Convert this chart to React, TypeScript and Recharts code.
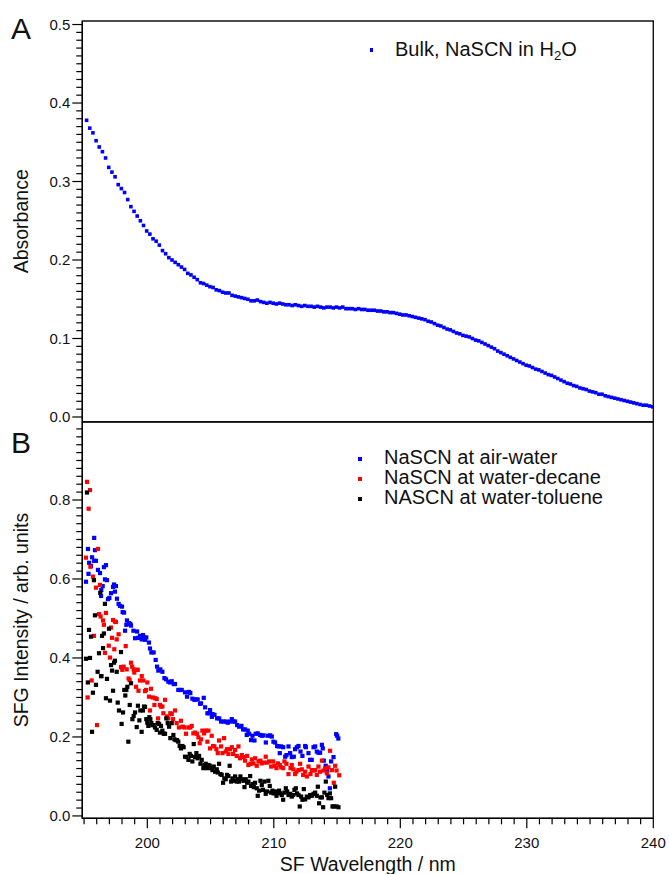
import React from 'react';
import { ScatterChart, Scatter, XAxis, YAxis, ReferenceArea, Legend } from 'recharts';

const FONT = '"Liberation Sans", Arial, Helvetica, sans-serif';

// ---- axis ranges & ticks ----
const X_MIN = 194.86;
const X_MAX = 240;
const A_MIN = -0.006;
const A_MAX = 0.5045;
const B_MIN = -0.006;
const B_MAX = 0.9975;

const xMajorTicks = [200, 210, 220, 230, 240];
const absMajorTicks = [0.0, 0.1, 0.2, 0.3, 0.4, 0.5];
const sfgMajorTicks = [0.0, 0.2, 0.4, 0.6, 0.8];

const xTicks = Array.from({ length: 46 }, (_, i) => 195 + i);
const absTicks = Array.from({ length: 51 }, (_, i) => Math.round(i) / 100);
const sfgTicks = Array.from({ length: 50 }, (_, i) => Math.round(i * 2) / 100);

// ---- panel A: bulk absorbance (wavelength grid start / step) ----
const bulkStart = 195.2;
const bulkStep = 0.25;
const bulkAbsorbance = [
  0.378, 0.368, 0.362, 0.352, 0.344, 0.338, 0.330, 0.318, 0.312, 0.306, 0.296, 0.291, 0.286, 0.277, 0.268, 0.262, 0.256, 0.250, 0.244, 0.237,
  0.233, 0.227, 0.224, 0.219, 0.212, 0.208, 0.203, 0.200, 0.197, 0.194, 0.191, 0.188, 0.183, 0.181, 0.178, 0.175, 0.171, 0.170, 0.168, 0.166,
  0.165, 0.162, 0.161, 0.159, 0.158, 0.158, 0.155, 0.154, 0.153, 0.152, 0.151, 0.150, 0.148, 0.148, 0.149, 0.147, 0.146, 0.145, 0.146, 0.145,
  0.144, 0.145, 0.144, 0.143, 0.143, 0.142, 0.143, 0.142, 0.141, 0.142, 0.141, 0.141, 0.140, 0.141, 0.140, 0.139, 0.140, 0.140, 0.139, 0.140,
  0.139, 0.140, 0.138, 0.138, 0.138, 0.137, 0.138, 0.137, 0.137, 0.136, 0.136, 0.136, 0.135, 0.135, 0.134, 0.134, 0.133, 0.133, 0.132, 0.131,
  0.130, 0.130, 0.129, 0.128, 0.127, 0.126, 0.125, 0.124, 0.122, 0.121, 0.119, 0.117, 0.116, 0.114, 0.112, 0.111, 0.109, 0.107, 0.106, 0.104,
  0.103, 0.102, 0.100, 0.098, 0.097, 0.095, 0.093, 0.091, 0.089, 0.087, 0.084, 0.082, 0.080, 0.078, 0.076, 0.074, 0.072, 0.070, 0.068, 0.066,
  0.065, 0.063, 0.061, 0.060, 0.058, 0.056, 0.054, 0.053, 0.051, 0.049, 0.047, 0.045, 0.043, 0.042, 0.040, 0.039, 0.037, 0.036, 0.035, 0.033,
  0.032, 0.031, 0.029, 0.029, 0.027, 0.026, 0.025, 0.024, 0.023, 0.022, 0.021, 0.020, 0.019, 0.018, 0.017, 0.016, 0.015, 0.015, 0.014, 0.013,
];

// ---- panel B: SFG intensity [wavelength, intensity] ----
const airWater: [number, number][] = [
  [195.15, 0.593], [195.31, 0.676], [195.35, 0.613], [195.4, 0.641], [195.55, 0.633], [195.63, 0.655], [195.8, 0.704], [195.8, 0.646],
  [195.86, 0.673], [195.94, 0.646], [196.1, 0.623], [196.26, 0.615], [196.34, 0.557], [196.36, 0.572], [196.47, 0.582], [196.57, 0.63],
  [196.65, 0.599], [196.73, 0.635], [196.81, 0.597], [196.89, 0.549], [197.0, 0.552], [197.13, 0.564], [197.29, 0.58], [197.37, 0.586],
  [197.44, 0.568], [197.52, 0.582], [197.6, 0.55], [197.73, 0.537], [197.84, 0.532], [198.0, 0.53], [198.05, 0.516], [198.16, 0.515],
  [198.24, 0.469], [198.34, 0.484], [198.39, 0.495], [198.55, 0.488], [198.66, 0.486], [198.71, 0.482], [198.9, 0.469], [199.03, 0.45],
  [199.19, 0.467], [199.29, 0.451], [199.42, 0.456], [199.55, 0.447], [199.66, 0.458], [199.74, 0.452], [199.82, 0.446], [199.92, 0.452],
  [200.13, 0.439], [200.21, 0.424], [200.32, 0.414], [200.5, 0.414], [200.66, 0.395], [200.77, 0.378], [200.87, 0.368], [201.03, 0.371],
  [201.19, 0.365], [201.35, 0.349], [201.48, 0.346], [201.66, 0.34], [201.8, 0.338], [201.93, 0.341], [202.09, 0.334], [202.19, 0.334],
  [202.45, 0.319], [202.59, 0.319], [202.72, 0.319], [202.98, 0.313], [203.14, 0.302], [203.3, 0.314], [203.4, 0.311], [203.56, 0.297],
  [203.72, 0.294], [203.83, 0.295], [203.98, 0.295], [204.17, 0.284], [204.25, 0.285], [204.46, 0.299], [204.57, 0.275], [204.75, 0.26],
  [204.88, 0.26], [204.96, 0.268], [205.1, 0.251], [205.15, 0.258], [205.31, 0.256], [205.52, 0.247], [205.68, 0.247], [205.83, 0.239],
  [206.02, 0.239], [206.2, 0.239], [206.36, 0.236], [206.52, 0.239], [206.68, 0.245], [206.81, 0.239], [206.94, 0.239], [207.1, 0.23],
  [207.26, 0.226], [207.44, 0.228], [207.57, 0.219], [207.73, 0.219], [207.86, 0.205], [207.94, 0.216], [208.05, 0.208], [208.2, 0.192],
  [208.31, 0.203], [208.47, 0.191], [208.57, 0.208], [208.73, 0.209], [208.92, 0.205], [209.05, 0.203], [209.18, 0.204], [209.37, 0.186],
  [209.52, 0.203], [209.71, 0.204], [209.84, 0.201], [209.97, 0.188], [210.1, 0.186], [210.26, 0.177], [210.37, 0.176], [210.47, 0.159],
  [210.58, 0.176], [210.74, 0.174], [210.9, 0.15], [211.0, 0.154], [211.16, 0.176], [211.29, 0.159], [211.42, 0.149], [211.58, 0.15],
  [211.68, 0.169], [211.82, 0.174], [211.95, 0.177], [212.11, 0.163], [212.26, 0.152], [212.48, 0.177], [212.53, 0.174], [212.74, 0.159],
  [212.87, 0.142], [213.0, 0.142], [213.14, 0.174], [213.27, 0.176], [213.4, 0.163], [213.53, 0.16], [213.66, 0.16], [213.8, 0.18],
  [213.87, 0.171], [213.95, 0.14], [214.1, 0.127], [214.22, 0.115], [214.32, 0.1], [214.43, 0.07], [214.53, 0.138], [214.72, 0.149],
  [214.93, 0.207], [215.01, 0.203], [215.1, 0.196],
];

const waterDecane: [number, number][] = [
  [195.15, 0.654], [195.23, 0.846], [195.28, 0.3], [195.36, 0.778], [195.47, 0.825], [195.5, 0.631], [195.6, 0.343], [195.7, 0.606],
  [195.78, 0.456], [195.94, 0.578], [196.02, 0.23], [196.1, 0.676], [196.18, 0.511], [196.26, 0.585], [196.31, 0.505], [196.39, 0.354],
  [196.5, 0.495], [196.57, 0.484], [196.65, 0.413], [196.73, 0.514], [196.95, 0.431], [197.05, 0.401], [197.13, 0.477], [197.21, 0.451],
  [197.29, 0.496], [197.39, 0.422], [197.44, 0.492], [197.52, 0.491], [197.58, 0.447], [197.73, 0.46], [197.92, 0.377], [198.02, 0.37],
  [198.13, 0.378], [198.29, 0.43], [198.37, 0.371], [198.52, 0.348], [198.6, 0.344], [198.71, 0.388], [198.8, 0.378], [198.92, 0.371],
  [198.97, 0.363], [199.11, 0.327], [199.19, 0.37], [199.24, 0.37], [199.3, 0.317], [199.42, 0.343], [199.56, 0.354], [199.69, 0.343],
  [199.82, 0.316], [199.9, 0.319], [200.0, 0.338], [200.13, 0.302], [200.21, 0.267], [200.29, 0.322], [200.43, 0.3], [200.56, 0.281],
  [200.64, 0.298], [200.74, 0.296], [200.85, 0.247], [201.0, 0.281], [201.08, 0.277], [201.19, 0.277], [201.27, 0.26], [201.4, 0.294],
  [201.56, 0.252], [201.66, 0.247], [201.82, 0.26], [201.93, 0.258], [202.03, 0.245], [202.19, 0.267], [202.32, 0.235], [202.5, 0.224],
  [202.66, 0.241], [202.8, 0.226], [202.93, 0.224], [203.06, 0.208], [203.25, 0.224], [203.4, 0.224], [203.51, 0.228], [203.64, 0.209],
  [203.77, 0.211], [203.93, 0.208], [204.04, 0.199], [204.14, 0.184], [204.25, 0.194], [204.35, 0.216], [204.49, 0.209], [204.62, 0.216],
  [204.75, 0.188], [204.83, 0.216], [204.96, 0.171], [205.09, 0.203], [205.2, 0.177], [205.3, 0.176], [205.46, 0.169], [205.57, 0.159],
  [205.67, 0.191], [205.83, 0.176], [205.94, 0.159], [206.07, 0.197], [206.2, 0.163], [206.3, 0.169], [206.41, 0.157], [206.54, 0.169],
  [206.68, 0.174], [206.78, 0.157], [206.94, 0.167], [207.07, 0.152], [207.2, 0.176], [207.33, 0.146], [207.47, 0.154], [207.6, 0.149],
  [207.73, 0.14], [207.89, 0.152], [207.99, 0.129], [208.15, 0.132], [208.26, 0.143], [208.39, 0.133], [208.52, 0.146], [208.65, 0.127],
  [208.79, 0.138], [208.94, 0.14], [209.05, 0.133], [209.21, 0.135], [209.36, 0.15], [209.47, 0.135], [209.63, 0.138], [209.79, 0.125],
  [209.95, 0.138], [210.05, 0.127], [210.21, 0.121], [210.32, 0.133], [210.47, 0.129], [210.58, 0.123], [210.74, 0.121], [210.84, 0.138],
  [211.0, 0.132], [211.16, 0.106], [211.32, 0.121], [211.42, 0.129], [211.55, 0.118], [211.68, 0.106], [211.79, 0.112], [211.95, 0.116],
  [212.08, 0.132], [212.21, 0.118], [212.32, 0.104], [212.48, 0.112], [212.61, 0.1], [212.74, 0.125], [212.9, 0.106], [213.0, 0.116],
  [213.14, 0.115], [213.27, 0.116], [213.4, 0.104], [213.53, 0.125], [213.66, 0.112], [213.8, 0.14], [213.93, 0.115], [214.06, 0.121],
  [214.19, 0.108], [214.32, 0.123], [214.45, 0.165], [214.59, 0.116], [214.74, 0.084], [214.85, 0.127], [214.96, 0.115], [215.17, 0.103],
];

const waterToluene: [number, number][] = [
  [195.15, 0.398], [195.23, 0.819], [195.3, 0.338], [195.39, 0.471], [195.47, 0.4], [195.55, 0.454], [195.63, 0.213], [195.7, 0.312],
  [195.78, 0.597], [195.86, 0.508], [195.94, 0.332], [196.07, 0.365], [196.18, 0.412], [196.28, 0.565], [196.34, 0.354], [196.42, 0.456],
  [196.5, 0.425], [196.57, 0.462], [196.65, 0.537], [196.73, 0.298], [196.81, 0.347], [196.97, 0.474], [197.05, 0.292], [197.13, 0.382],
  [197.21, 0.368], [197.29, 0.317], [197.37, 0.388], [197.44, 0.393], [197.58, 0.365], [197.66, 0.287], [197.76, 0.267], [197.92, 0.415],
  [197.97, 0.233], [198.08, 0.262], [198.18, 0.319], [198.26, 0.305], [198.34, 0.319], [198.42, 0.327], [198.5, 0.188], [198.61, 0.281],
  [198.71, 0.336], [198.82, 0.245], [198.92, 0.253], [199.03, 0.262], [199.16, 0.225], [199.26, 0.279], [199.37, 0.242], [199.45, 0.267],
  [199.55, 0.213], [199.66, 0.267], [199.74, 0.277], [199.82, 0.276], [199.92, 0.245], [200.0, 0.236], [200.08, 0.228], [200.16, 0.25],
  [200.24, 0.245], [200.32, 0.235], [200.4, 0.23], [200.5, 0.23], [200.61, 0.224], [200.74, 0.218], [200.82, 0.235], [200.93, 0.233],
  [201.0, 0.211], [201.08, 0.228], [201.19, 0.216], [201.3, 0.208], [201.4, 0.208], [201.5, 0.247], [201.61, 0.235], [201.72, 0.226],
  [201.82, 0.197], [201.93, 0.235], [202.06, 0.205], [202.14, 0.194], [202.24, 0.192], [202.35, 0.192], [202.45, 0.188], [202.56, 0.177],
  [202.66, 0.171], [202.77, 0.177], [202.87, 0.174], [202.98, 0.15], [203.11, 0.149], [203.25, 0.142], [203.35, 0.157], [203.46, 0.152],
  [203.56, 0.138], [203.67, 0.182], [203.77, 0.149], [203.88, 0.159], [203.98, 0.146], [204.09, 0.152], [204.2, 0.132], [204.3, 0.142],
  [204.43, 0.121], [204.51, 0.129], [204.62, 0.132], [204.72, 0.121], [204.83, 0.129], [204.93, 0.127], [205.04, 0.121], [205.15, 0.116],
  [205.25, 0.125], [205.36, 0.112], [205.49, 0.118], [205.57, 0.11], [205.67, 0.132], [205.78, 0.106], [205.88, 0.104], [205.99, 0.084],
  [206.09, 0.095], [206.2, 0.093], [206.3, 0.104], [206.41, 0.101], [206.51, 0.127], [206.62, 0.087], [206.73, 0.095], [206.83, 0.089],
  [206.94, 0.1], [207.07, 0.087], [207.15, 0.093], [207.25, 0.087], [207.36, 0.1], [207.47, 0.093], [207.6, 0.089], [207.68, 0.073],
  [207.78, 0.093], [207.89, 0.084], [207.99, 0.087], [208.13, 0.101], [208.2, 0.076], [208.31, 0.081], [208.42, 0.073], [208.52, 0.084],
  [208.65, 0.07], [208.73, 0.051], [208.84, 0.064], [208.94, 0.089], [209.05, 0.078], [209.15, 0.066], [209.26, 0.087], [209.36, 0.056],
  [209.47, 0.062], [209.57, 0.089], [209.68, 0.076], [209.79, 0.059], [209.89, 0.064], [209.99, 0.057], [210.1, 0.062], [210.21, 0.051],
  [210.31, 0.059], [210.42, 0.064], [210.52, 0.057], [210.63, 0.053], [210.74, 0.041], [210.84, 0.059], [210.95, 0.07], [211.05, 0.062],
  [211.16, 0.053], [211.29, 0.056], [211.42, 0.049], [211.53, 0.053], [211.63, 0.066], [211.74, 0.07], [211.84, 0.057], [211.95, 0.053],
  [212.05, 0.024], [212.16, 0.049], [212.26, 0.041], [212.37, 0.068], [212.48, 0.042], [212.61, 0.049], [212.74, 0.047], [212.87, 0.053],
  [213.0, 0.051], [213.14, 0.056], [213.27, 0.059], [213.4, 0.051], [213.48, 0.074], [213.58, 0.032], [213.69, 0.047], [213.8, 0.047],
  [213.9, 0.022], [214.0, 0.059], [214.11, 0.087], [214.22, 0.053], [214.32, 0.045], [214.43, 0.057], [214.53, 0.045], [214.64, 0.024],
  [214.74, 0.024], [214.85, 0.074], [214.96, 0.024], [215.11, 0.022],
];

// ---- series names / colours ----
const bulkName = 'Bulk, NaSCN in H2O';
const seriesB = [
  { name: 'NaSCN at air-water', color: '#0000ff', data: airWater },
  { name: 'NaSCN at water-decane', color: '#ff0000', data: waterDecane },
  { name: 'NASCN at water-toluene', color: '#000000', data: waterToluene },
];

const bulkData = bulkAbsorbance.map((y, i) => ({ x: bulkStart + i * bulkStep, y }));
const toObjs = (arr: [number, number][]) => arr.map(([x, y]) => ({ x, y }));

const isIn = (v: number, list: number[]) => list.some((m) => Math.abs(m - v) < 1e-6);

const squareShape = (size: number, color: string) => (props: any) => {
  const { cx, cy } = props;
  if (cx == null || cy == null) return <g />;
  return <rect x={cx - size / 2} y={cy - size / 2} width={size} height={size} fill={color} />;
};

const makeYTick = (majors: number[]) => (props: any) => {
  const { x, y, payload } = props;
  const v = payload.value as number;
  const major = isIn(v, majors);
  return (
    <g>
      <line x1={x} x2={x - (major ? 10 : 6)} y1={y} y2={y} stroke="#000" strokeWidth={1.2} />
      {major && (
        <text x={x - 12} y={y} dy="0.36em" textAnchor="end" fontSize={15} fontFamily={FONT} fill="#111">
          {v.toFixed(1)}
        </text>
      )}
    </g>
  );
};

const XTick = (props: any) => {
  const { x, y, payload } = props;
  const v = payload.value as number;
  const major = isIn(v, xMajorTicks);
  return (
    <g>
      <line x1={x} x2={x} y1={y} y2={y + (major ? 10 : 6)} stroke="#000" strokeWidth={1.2} />
      {major && (
        <text x={x} y={y + 29.7} textAnchor="middle" fontSize={15} fontFamily={FONT} fill="#111">
          {v}
        </text>
      )}
    </g>
  );
};

const TitleA = () => (
  <g>
    <text x={11} y={39} fontSize={30} fontFamily={FONT} fill="#111">A</text>
    <text x={28} y={221.3} transform="rotate(-90 28 221.3)" textAnchor="middle" fontSize={19.5} fontFamily={FONT} fill="#111">
      Absorbance
    </text>
  </g>
);

const TitleB = () => (
  <g>
    <text x={11} y={53} fontSize={30} fontFamily={FONT} fill="#111">B</text>
    <text x={28} y={220} transform="rotate(-90 28 220)" textAnchor="middle" fontSize={19.5} fontFamily={FONT} fill="#111">
      SFG Intensity / arb. units
    </text>
  </g>
);

const XTitle = () => (
  <text x={367.8} y={471} textAnchor="middle" fontSize={19.5} fontFamily={FONT} fill="#111">
    SF Wavelength / nm
  </text>
);

const renderName = (name: string) => {
  const m = name.match(/^(.*H)2(O)$/);
  if (!m) return name;
  return (
    <>
      {m[1]}
      <sub style={{ fontSize: '0.66em', verticalAlign: 'baseline', position: 'relative', top: '0.32em' }}>2</sub>
      {m[2]}
    </>
  );
};

const LegendBox = ({ items, size, padLeft, markerTop }: { items: { name: string; color: string }[]; size: number; padLeft: number; markerTop: number }) => (
  <div style={{ fontFamily: FONT, fontSize: 20, lineHeight: '20px', color: '#111' }}>
    {items.map((it) => (
      <div key={it.name} style={{ position: 'relative', height: 20, paddingLeft: padLeft, whiteSpace: 'nowrap' }}>
        <span style={{ position: 'absolute', left: 0, top: markerTop, width: size, height: size, background: it.color }} />
        {renderName(it.name)}
      </div>
    ))}
  </div>
);

export default function App() {
  return (
    <div style={{ position: 'absolute', left: 0, top: 0, width: 669, height: 874, background: '#fff', fontFamily: FONT }}>
      <div style={{ position: 'absolute', left: 0, top: 0 }}>
        <ScatterChart width={669} height={430} margin={{ top: 21, right: 15.7, bottom: 8.3, left: 0 }}>
          <XAxis type="number" dataKey="x" domain={[X_MIN, X_MAX]} allowDataOverflow hide />
          <YAxis
            type="number"
            dataKey="y"
            domain={[A_MIN, A_MAX]}
            allowDataOverflow
            ticks={absTicks}
            interval={0}
            tickSize={0}
            tickMargin={0}
            tickLine={false}
            axisLine={{ stroke: '#000', strokeWidth: 1.3 }}
            width={82.3}
            tick={makeYTick(absMajorTicks)}
            label={<TitleA />}
          />
          <ReferenceArea x1={X_MIN} x2={X_MAX} y1={A_MIN} y2={A_MAX} fill="none" stroke="#111" strokeWidth={1.4} ifOverflow="visible" />
          <Scatter name={bulkName} data={bulkData} fill="#0000ff" shape={squareShape(3.6, '#0000ff')} isAnimationActive={false} />
          <Legend
            layout="horizontal"
            verticalAlign="middle"
            align="center"
            wrapperStyle={{ position: 'absolute', left: 369.7, top: 39.07, width: 'auto', height: 'auto' }}
            content={() => <LegendBox items={[{ name: bulkName, color: '#0000ff' }]} size={3.6} padLeft={25.3} markerTop={9.13} />}
          />
        </ScatterChart>
      </div>
      <div style={{ position: 'absolute', left: 0, top: 400 }}>
        <ScatterChart width={669} height={474} margin={{ top: 22, right: 15.7, bottom: 0, left: 0 }}>
          <XAxis
            type="number"
            dataKey="x"
            domain={[X_MIN, X_MAX]}
            allowDataOverflow
            ticks={xTicks}
            interval={0}
            tickSize={0}
            tickMargin={0}
            tickLine={false}
            axisLine={{ stroke: '#000', strokeWidth: 1.3 }}
            height={55.7}
            tick={XTick}
            label={<XTitle />}
          />
          <YAxis
            type="number"
            dataKey="y"
            domain={[B_MIN, B_MAX]}
            allowDataOverflow
            ticks={sfgTicks}
            interval={0}
            tickSize={0}
            tickMargin={0}
            tickLine={false}
            axisLine={{ stroke: '#000', strokeWidth: 1.3 }}
            width={82.3}
            tick={makeYTick(sfgMajorTicks)}
            label={<TitleB />}
          />
          <ReferenceArea x1={X_MIN} x2={X_MAX} y1={B_MIN} y2={B_MAX} fill="none" stroke="#111" strokeWidth={1.4} ifOverflow="visible" />
          {seriesB.map((s) => (
            <Scatter
              key={s.name}
              name={s.name}
              data={toObjs(s.data)}
              fill={s.color}
              shape={squareShape(4.2, s.color)}
              isAnimationActive={false}
            />
          ))}
          <Legend
            layout="horizontal"
            verticalAlign="middle"
            align="center"
            wrapperStyle={{ position: 'absolute', left: 357.9, top: 47.07, width: 'auto', height: 'auto' }}
            content={() => (
              <LegendBox items={seriesB.map((s) => ({ name: s.name, color: s.color }))} size={4.2} padLeft={26.1} markerTop={9.83} />
            )}
          />
        </ScatterChart>
      </div>
    </div>
  );
}
